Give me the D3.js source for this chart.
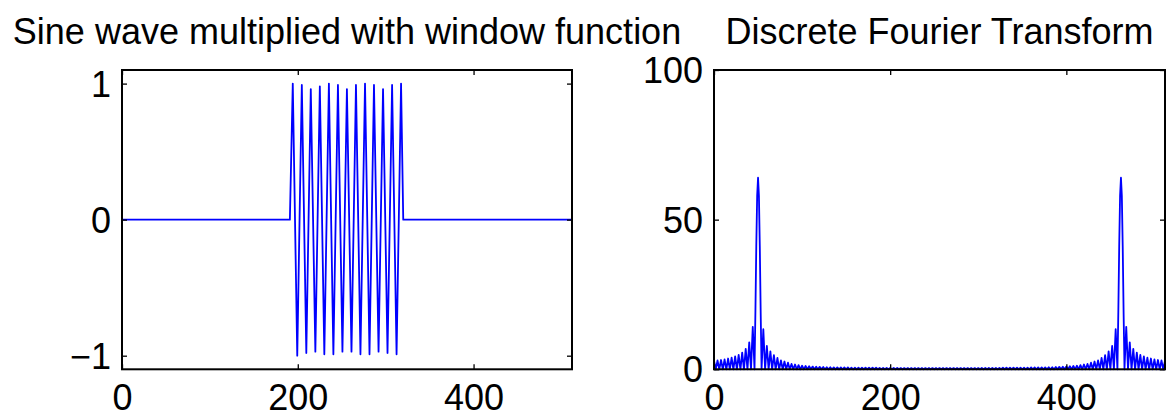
<!DOCTYPE html>
<html>
<head>
<meta charset="utf-8">
<script src="https://cdn.jsdelivr.net/npm/d3@7"></script>
<style>
  body { margin: 0; background: white; }
  svg text { font-family: "Liberation Sans", Arial, Helvetica, sans-serif; fill: black; }
</style>
</head>
<body>
<script>
// Left panel: windowed sine, vertices (sample index / amplitude)
const waveX = [0, 191, 194.3, 199.4, 204.6, 209.7, 214.8, 220.0, 225.1, 230.2, 235.4, 240.5,
               245.7, 250.8, 255.9, 261.1, 266.2, 271.3, 276.5, 281.6, 286.7, 291.9,
               297.0, 302.1, 307.3, 312.4, 317.5, 320, 512];
const waveY = [0, 0, 1.0, -1.0, 0.99, -0.98, 0.96, -0.97, 0.98, -0.99, 1.0, -0.99,
               0.99, -0.97, 0.96, -0.97, 0.99, -0.99, 1.0, -0.99, 0.99, -0.97,
               0.96, -0.98, 0.99, -0.99, 1.0, 0, 0];

// Right panel: |DFT|, lobe tips every 4 bins (nulls in between)
const tipsLeft = [2.9, 3.0, 3.1, 3.3, 3.6, 3.9, 4.3, 4.8, 5.6, 6.8, 9.0, 14.2];   // bins 0..44
const mainLobe = [0, 19, 41, 58, 64, 58, 41, 19, 0];                              // bins 46..54, 458..466
const tipsMid = [13.4, 7.8, 6.0, 4.7, 3.8, 3.0, 2.6, 2.2, 1.8, 1.6,
                 1.4, 1.2, 1.1, 1.0, 0.9, 0.85, 0.8, 0.75, 0.7, 0.7,
                 0.65, 0.65, 0.6, 0.6, 0.6, 0.55, 0.55, 0.55, 0.5, 0.5,
                 0.5, 0.5, 0.5, 0.45, 0.45, 0.45, 0.45, 0.45, 0.45, 0.4,
                 0.4, 0.4, 0.4, 0.4, 0.4, 0.4, 0.4, 0.4, 0.4, 0.4,
                 0.4,
                 0.4, 0.4, 0.4, 0.4, 0.4, 0.4, 0.4, 0.4, 0.4, 0.4,
                 0.4, 0.45, 0.45, 0.45, 0.45, 0.45, 0.45, 0.5, 0.5, 0.5,
                 0.5, 0.5, 0.55, 0.55, 0.55, 0.6, 0.6, 0.6, 0.65, 0.65,
                 0.7, 0.7, 0.75, 0.8, 0.85, 0.9, 1.0, 1.1, 1.2, 1.4,
                 1.6, 1.8, 2.2, 2.6, 3.0, 3.8, 4.7, 6.0, 7.8, 13.4];              // bins 56..456
const tipsRight = [14.2, 9.0, 6.8, 5.6, 4.8, 4.3, 3.9, 3.6, 3.3, 3.1, 3.0, 2.9];  // bins 468..512

const xTicks = [0, 200, 400];
const waveTicks = [-1, 0, 1];
const dftTicks = [0, 50, 100];
const titles = ["Sine wave multiplied with window function", "Discrete Fourier Transform"];

const N = 512;
const fontSize = 36;
const plotTop = 70, plotBottom = 369.3;

const svg = d3.select("body").append("svg")
    .attr("width", 1171)
    .attr("height", 418);

// turn lobe tips into a tip/null zigzag
const comb = (tips, start) => {
    const pts = [];
    tips.forEach((t, i) => {
        const k = start + 4 * i;
        pts.push([k, t]);
        if (k + 2 <= N) pts.push([k + 2, 0]);
    });
    return pts;
};

const dftPts = [].concat(
    comb(tipsLeft, 0),
    mainLobe.map((v, i) => [46 + i, v]),
    comb(tipsMid, 56),
    mainLobe.map((v, i) => [458 + i, v]),
    comb(tipsRight, 468)
);

const wavePts = waveX.map((x, i) => [x, waveY[i]]);

const panels = [
    {left: 122, right: 572, ydom: [-1.1, 1.1], yticks: waveTicks, pts: wavePts, title: titles[0]},
    {left: 714, right: 1165, ydom: [0, 100], yticks: dftTicks, pts: dftPts, title: titles[1]}
];

panels.forEach(p => {
    const w = p.right - p.left, h = plotBottom - plotTop;
    const x = d3.scaleLinear().domain([0, N]).range([0, w]);
    const y = d3.scaleLinear().domain(p.ydom).range([h, 0]);

    const g = svg.append("g").attr("transform", `translate(${p.left},${plotTop})`);

    // the data line
    g.append("path")
        .datum(p.pts)
        .attr("fill", "none")
        .attr("stroke", "#0000ff")
        .attr("stroke-width", 1.8)
        .attr("stroke-linejoin", "round")
        .attr("d", d3.line().x(d => x(d[0])).y(d => y(d[1])));

    // ticks (inward, mirrored on all four sides)
    const fmt = d => d < 0 ? "\u2212" + Math.abs(d) : d;
    const xb = g.append("g").attr("transform", `translate(0,${h})`)
        .call(d3.axisBottom(x).tickValues(xTicks).tickSize(-5).tickPadding(15));
    const xt = g.append("g")
        .call(d3.axisTop(x).tickValues(xTicks).tickSize(-5).tickFormat(""));
    const yl = g.append("g")
        .call(d3.axisLeft(y).tickValues(p.yticks).tickSize(-5).tickPadding(11).tickFormat(fmt));
    const yr = g.append("g").attr("transform", `translate(${w},0)`)
        .call(d3.axisRight(y).tickValues(p.yticks).tickSize(-5).tickFormat(""));

    [xb, xt, yl, yr].forEach(a => {
        a.select(".domain").remove();
        a.attr("font-family", null).attr("font-size", fontSize);
        a.selectAll(".tick line").attr("stroke", "black").attr("stroke-width", 1.3);
    });
    yl.selectAll("text").attr("dy", "0.35em");

    // the box
    g.append("rect")
        .attr("width", w)
        .attr("height", h)
        .attr("fill", "none")
        .attr("stroke", "black")
        .attr("stroke-width", 2);

    svg.append("text")
        .attr("x", p.left + w / 2)
        .attr("y", 44)
        .attr("text-anchor", "middle")
        .attr("font-size", fontSize)
        .text(p.title);
});
</script>
</body>
</html>
